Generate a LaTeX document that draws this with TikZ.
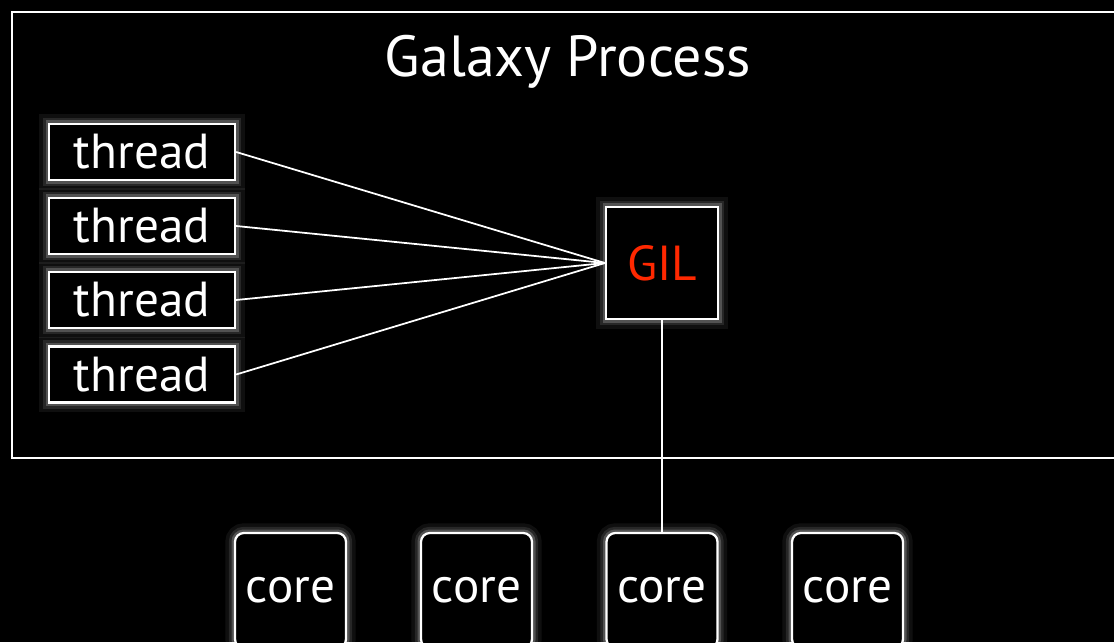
\documentclass[tikz,border=0pt]{standalone}
\usepackage{fontspec}
\setmainfont{PT Sans}
\usepackage{xcolor}
\definecolor{gilred}{RGB}{255,40,0}

\begin{document}
\begin{tikzpicture}[x=0.02cm,y=-0.02cm,line width=1pt,
		glow/.style={preaction={draw=white,opacity=0.06,line width=11pt},
		             preaction={draw=white,opacity=0.1,line width=7pt},
		             preaction={draw=white,opacity=0.2,line width=4pt}},
		box/.style={draw=white,line width=1.3pt,fill=black,glow,font=\fontsize{28}{28}\selectfont,text=white},
		thread node/.style={box,minimum width=3.72cm,minimum height=1.12cm,inner sep=0pt},
		gil node/.style={box,minimum width=2.24cm,minimum height=2.24cm,text=gilred},
		core node/.style={box,rounded corners=5pt,minimum width=2.22cm,minimum height=2.3cm}]

			% Background
			\fill[black] (0, 0) rectangle (1114, 642);
			\clip (0, 0) rectangle (1114, 642);

			% Process rectangle
			\draw[white] (12, 12) rectangle (1140, 458);
			\node[text=white,font=\fontsize{33}{33}\selectfont] (title) at (568, 62) {Galaxy Process};

			% Nodes
			% Threads
			\node[thread node] (T1) at (142, 152) {thread};
			\node[thread node] (T2) at (142, 226) {thread};
			\node[thread node] (T3) at (142, 300) {thread};
			\node[thread node] (T4) at (142, 374.5) {thread};

			% Lock
			\node[gil node] (GIL) at (662, 263) {GIL};

			% Cores
			\node[core node] (C1) at (290.5, 590.5) {core};
			\node[core node] (C2) at (476.5, 590.5) {core};
			\node[core node] (C3) at (662, 590.5) {core};
			\node[core node] (C4) at (847.5, 590.5) {core};

			% Edges
			\draw[white] (T1.east) -- (GIL.west);
			\draw[white] (T2.east) -- (GIL.west);
			\draw[white] (T3.east) -- (GIL.west);
			\draw[white] (T4.east) -- (GIL.west);

			\draw[white] (GIL) -- (C3);
\end{tikzpicture}
\end{document}
